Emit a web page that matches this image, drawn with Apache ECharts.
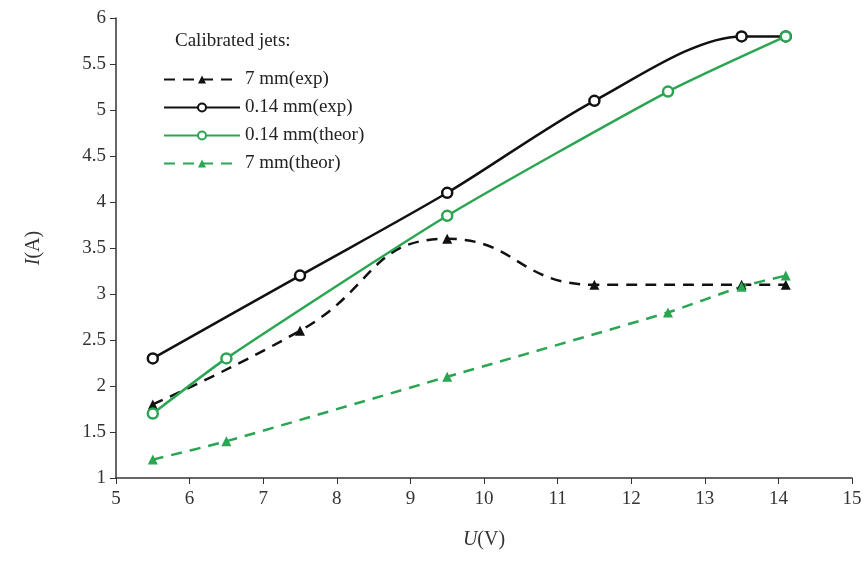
<!DOCTYPE html>
<html><head><meta charset="utf-8">
<script src="https://cdn.jsdelivr.net/npm/echarts@6/dist/echarts.min.js"></script>
<style>html,body{margin:0;padding:0;background:#fff}#c{width:867px;height:576px}</style>
</head><body><div id="c"></div>
<script>
var exp7X = [5.5, 7.5, 9.5, 11.5, 13.5, 14.1];
var exp7Y = [1.8, 2.6, 3.6, 3.1, 3.1, 3.1];
var exp014X = [5.5, 7.5, 9.5, 11.5, 13.5, 14.1];
var exp014Y = [2.3, 3.2, 4.1, 5.1, 5.8, 5.8];
var th014X = [5.5, 6.5, 9.5, 12.5, 14.1];
var th014Y = [1.7, 2.3, 3.85, 5.2, 5.8];
var th7X = [5.5, 6.5, 9.5, 12.5, 13.5, 14.1];
var th7Y = [1.2, 1.4, 2.1, 2.8, 3.08, 3.2];
var names = ['7 mm(exp)', '0.14 mm(exp)', '0.14 mm(theor)', '7 mm(theor)'];

function pairs(xs, ys){ return xs.map(function(x,i){ return [x, ys[i]]; }); }
var green = '#2aa552', black = '#111111';
var font = 'Liberation Serif';
var chart = echarts.init(document.getElementById('c'));
chart.setOption({
  backgroundColor: '#fff',
  animation: false,
  title: { text: 'Calibrated jets:', left: 170, top: 27,
    textStyle: { fontFamily: font, fontSize: 19, fontWeight: 'normal', color: '#222' } },
  legend: {
    orient: 'vertical', left: 158, top: 65, itemWidth: 76, itemHeight: 10, itemGap: 9,
    data: names,
    textStyle: { fontFamily: font, fontSize: 19, color: '#222' }
  },
  grid: { left: 116, right: 15, top: 18, bottom: 98 },
  xAxis: {
    type: 'value', min: 5, max: 15, interval: 1,
    name: '{i|U}(V)', nameLocation: 'middle', nameGap: 52,
    nameTextStyle: { fontFamily: font, fontSize: 20, color: '#333',
      rich: { i: { fontFamily: font, fontSize: 20, fontStyle: 'italic', color: '#333' } } },
    axisLine: { lineStyle: { color: '#333', width: 1.5 } },
    axisTick: { show: true, length: 6, lineStyle: { color: '#333' } },
    axisLabel: { fontFamily: font, fontSize: 19, color: '#333', margin: 12 },
    splitLine: { show: false }
  },
  yAxis: {
    type: 'value', min: 1, max: 6, interval: 0.5,
    name: '{i|I}(A)', nameLocation: 'middle', nameGap: 72,
    nameTextStyle: { fontFamily: font, fontSize: 20, color: '#333',
      rich: { i: { fontFamily: font, fontSize: 20, fontStyle: 'italic', color: '#333' } } },
    axisLine: { show: true, lineStyle: { color: '#333', width: 1.5 } },
    axisTick: { show: true, length: 6, lineStyle: { color: '#333' } },
    axisLabel: { fontFamily: font, fontSize: 19, color: '#333', margin: 10 },
    splitLine: { show: false }
  },
  series: [
    { name: names[0], type: 'line', smooth: 0.5, data: pairs(exp7X, exp7Y),
      symbol: 'triangle', symbolSize: 10, z: 3,
      itemStyle: { color: black }, lineStyle: { color: black, width: 2.5, type: [11, 8] } },
    { name: names[1], type: 'line', smooth: 0.3, data: pairs(exp014X, exp014Y),
      symbol: 'circle', symbolSize: 10, z: 4,
      itemStyle: { color: '#fff', borderColor: black, borderWidth: 2.5 },
      lineStyle: { color: black, width: 2.5 } },
    { name: names[2], type: 'line', smooth: 0.2, data: pairs(th014X, th014Y),
      symbol: 'circle', symbolSize: 10, z: 5,
      itemStyle: { color: '#fff', borderColor: green, borderWidth: 2.5 },
      lineStyle: { color: green, width: 2.5 } },
    { name: names[3], type: 'line', smooth: 0.2, data: pairs(th7X, th7Y),
      symbol: 'triangle', symbolSize: 10, z: 3,
      itemStyle: { color: green }, lineStyle: { color: green, width: 2.5, type: [11, 8] } }
  ]
});
</script></body></html>
